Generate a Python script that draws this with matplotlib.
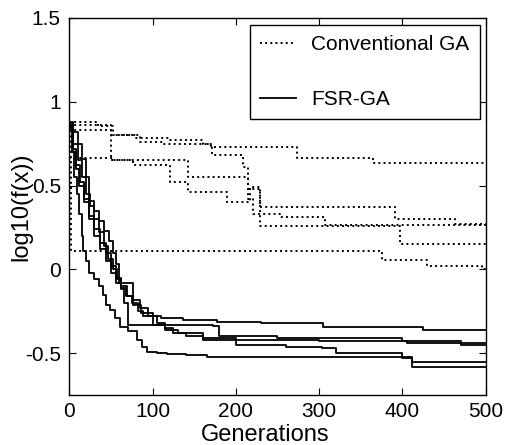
import numpy as np
import matplotlib.pyplot as plt

plt.rcParams['font.family'] = ['Liberation Sans', 'DejaVu Sans']

# Conventional GA runs (generation, log10 f) step points
ga_gen = [
    [0, 35, 52, 80, 121, 160, 170, 273, 365, 500],
    [0, 50, 85, 113, 171, 209, 214, 229, 391, 463, 500],
    [0, 50, 143, 215, 220, 253, 307, 500],
    [0, 52, 76, 121, 143, 189, 217, 229, 397, 500],
    [0, 2, 375, 430, 495, 500],
]
ga_val = [
    [0.877, 0.857, 0.80, 0.785, 0.77, 0.75, 0.73, 0.667, 0.637, 0.637],
    [0.86, 0.80, 0.76, 0.745, 0.68, 0.61, 0.48, 0.37, 0.30, 0.27, 0.27],
    [0.83, 0.655, 0.55, 0.42, 0.33, 0.315, 0.265, 0.265],
    [0.667, 0.65, 0.62, 0.52, 0.46, 0.40, 0.49, 0.26, 0.15, 0.15],
    [0.88, 0.11, 0.055, 0.02, 0.0, 0.0],
]

# FSR-GA runs
fsr_gen = [
    [0, 3, 6, 9, 12, 15, 17, 20, 24, 30, 36, 40, 44, 49, 55, 61, 70, 81, 87, 93, 105, 117, 140, 165, 229, 300, 412, 500],
    [0, 5, 10, 15, 20, 25, 30, 36, 42, 47, 52, 57, 62, 68, 75, 82, 89, 110, 137, 177, 230, 305, 425, 500],
    [0, 5, 10, 15, 20, 24, 30, 36, 42, 48, 52, 56, 60, 77, 85, 95, 105, 115, 125, 140, 160, 200, 300, 405, 500],
    [0, 4, 8, 12, 18, 24, 30, 37, 44, 50, 56, 62, 66, 71, 173, 180, 250, 400, 470, 500],
    [0, 4, 8, 13, 18, 24, 30, 37, 44, 50, 56, 62, 69, 77, 86, 100, 115, 130, 160, 200, 260, 303, 320, 400, 412, 500],
]
fsr_val = [
    [0.86, 0.70, 0.55, 0.45, 0.33, 0.20, 0.11, 0.05, -0.02, -0.06, -0.10, -0.15, -0.21, -0.24, -0.29, -0.345, -0.37, -0.42, -0.46, -0.49, -0.50, -0.505, -0.51, -0.52, -0.525, -0.525, -0.58, -0.58],
    [0.87, 0.75, 0.65, 0.55, 0.45, 0.38, 0.30, 0.22, 0.14, 0.06, 0.0, -0.06, -0.11, -0.16, -0.20, -0.25, -0.28, -0.29, -0.30, -0.315, -0.32, -0.345, -0.36, -0.36],
    [0.88, 0.82, 0.75, 0.66, 0.55, 0.41, 0.35, 0.29, 0.23, 0.17, 0.10, 0.035, -0.08, -0.18, -0.23, -0.28, -0.32, -0.35, -0.38, -0.40, -0.41, -0.42, -0.43, -0.44, -0.44],
    [0.85, 0.70, 0.60, 0.50, 0.40, 0.30, 0.20, 0.12, 0.05, -0.02, -0.08, -0.12, -0.20, -0.33, -0.335, -0.40, -0.41, -0.43, -0.45, -0.45],
    [0.84, 0.72, 0.62, 0.52, 0.42, 0.32, 0.24, 0.16, 0.10, 0.02, -0.05, -0.10, -0.16, -0.21, -0.26, -0.33, -0.36, -0.38, -0.42, -0.45, -0.46, -0.47, -0.50, -0.53, -0.555, -0.555],
]

fig = plt.figure(figsize=(5.05, 4.45), dpi=100)
ax = fig.add_axes([0.137, 0.112, 0.825, 0.848])

for i in range(len(ga_gen)):
    ax.plot(ga_gen[i], ga_val[i], color='black', linestyle=':', lw=1.4,
            drawstyle='steps-post', label='Conventional GA' if i == 0 else None)
for i in range(len(fsr_gen)):
    ax.plot(fsr_gen[i], fsr_val[i], color='black', linestyle='-', lw=1.3,
            drawstyle='steps-post', label='FSR-GA' if i == 0 else None)

ax.set_xlim(0, 500)
ax.set_ylim(-0.75, 1.5)
ax.set_xticks([0, 100, 200, 300, 400, 500])
ax.set_yticks([-0.5, 0, 0.5, 1, 1.5])
ax.set_yticklabels(['-0.5', '0', '0.5', '1', '1.5'])
ax.tick_params(direction='in', top=True, right=True, length=5, labelsize=15, pad=6)
ax.tick_params(axis='x', pad=5)
for s in ax.spines.values():
    s.set_linewidth(1.0)

ax.set_xlabel('Generations', fontsize=17)
ax.set_ylabel('log10(f(x))', fontsize=17)
ax.xaxis.set_label_coords(0.47, -0.076)
ax.yaxis.set_label_coords(-0.088, 0.5)

leg = ax.legend(loc='upper right', bbox_to_anchor=(0.986, 0.981), borderaxespad=0,
                fontsize=15, frameon=True, fancybox=False, edgecolor='black',
                framealpha=1, labelspacing=1.7, handlelength=1.7,
                handletextpad=0.75, borderpad=0.5)
leg.get_frame().set_linewidth(1.0)

plt.savefig('out.png', dpi=100)
